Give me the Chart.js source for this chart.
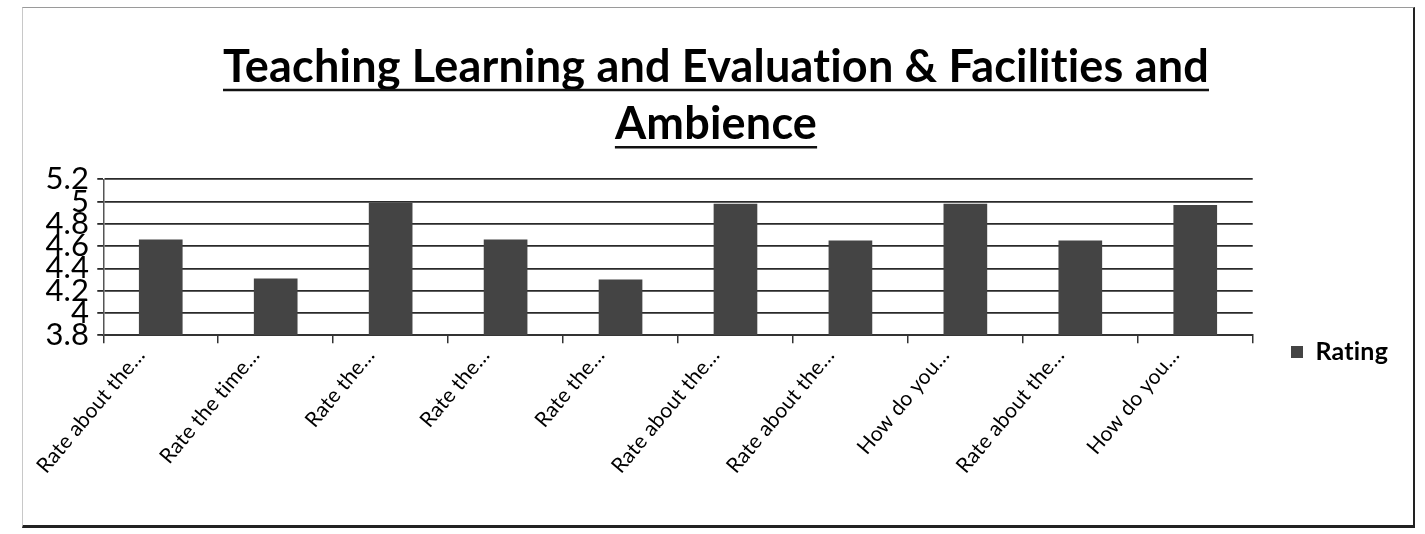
<!DOCTYPE html>
<html>
<head>
<meta charset="utf-8">
<script src="https://cdn.jsdelivr.net/npm/chart.js@4.4.1/dist/chart.umd.min.js"></script>
<style>
  html, body { margin: 0; padding: 0; background: #fff; }
  #wrap { position: relative; width: 1425px; height: 534px; }
  #frame {
    position: absolute; left: 22px; top: 7px; width: 1390px; height: 517px;
    border-left: 1px solid #c8c8c8; border-top: 1px solid #9a9a9a;
    border-right: 2px solid #222; border-bottom: 3px solid #222;
  }
  canvas { position: absolute; left: 0; top: 0; }
</style>
</head>
<body>
<div id="wrap">
  <div id="frame"></div>
  <canvas id="chart" width="1425" height="534"></canvas>
</div>
<script>
// data
const questions = [
  'Rate about the…', 'Rate the time…', 'Rate the…', 'Rate the…', 'Rate the…',
  'Rate about the…', 'Rate about the…', 'How do you…', 'Rate about the…', 'How do you…'
]
const rating = [4.66, 4.31, 4.99, 4.66, 4.30, 4.98, 4.65, 4.98, 4.65, 4.97]
const yTicks = [3.8, 4, 4.2, 4.4, 4.6, 4.8, 5, 5.2]
const titleLines = ['Teaching Learning and Evaluation & Facilities and', 'Ambience']
const seriesName = 'Rating'

const FONT = 'Lato, "Open Sans", sans-serif'

// no "ti" ligatures, Calibri has none
const noLigatures = {
  id: 'noLigatures',
  beforeDraw(chart) { chart.ctx.letterSpacing = '0.2px' }
}

// underline each title line like the original
const underlineTitle = {
  id: 'underlineTitle',
  afterDraw(chart) {
    const t = chart.titleBlock
    if (!t) return
    const o = t.options
    const size = o.font.size
    const lh = size * o.font.lineHeight
    const ctx = chart.ctx
    ctx.save()
    ctx.font = 'bold ' + size + 'px ' + FONT
    ctx.strokeStyle = '#111'
    ctx.lineWidth = 2.5
    const cx = (t.left + t.right) / 2
    titleLines.forEach((line, i) => {
      const w = ctx.measureText(line).width
      const y = t.top + o.padding.top + lh / 2 + i * lh + size * 0.5
      ctx.beginPath()
      ctx.moveTo(cx - w / 2, y)
      ctx.lineTo(cx + w / 2, y)
      ctx.stroke()
    })
    ctx.restore()
  }
}

// move the legend and title to where the original puts them
const placeBoxes = {
  id: 'placeBoxes',
  afterLayout(chart) {
    const lg = chart.legend
    const dx = 1281 - lg.left
    lg.left += dx
    lg.right += dx
    const h = lg.bottom - lg.top
    lg.top = 352 - h / 2
    lg.bottom = 352 + h / 2
    const t = chart.titleBlock
    const tx = 716 - (t.left + t.right) / 2
    t.left += tx
    t.right += tx
  }
}

new Chart(document.getElementById('chart'), {
  type: 'bar',
  data: {
    labels: questions,
    datasets: [{
      label: seriesName,
      data: rating,
      backgroundColor: '#444',
      borderWidth: 0,
      barPercentage: 0.76,
      categoryPercentage: 0.5
    }]
  },
  options: {
    responsive: false,
    animation: false,
    layout: { padding: { left: 38, right: 56, top: 8, bottom: 58 } },
    plugins: {
      title: {
        display: true,
        text: titleLines,
        color: '#000',
        font: { family: FONT, size: 45, weight: 'bold', lineHeight: 1.27 },
        padding: { top: 31, bottom: 26 }
      },
      legend: {
        position: 'right',
        labels: {
          color: '#000',
          font: { family: FONT, size: 25, weight: 'bold' },
          boxWidth: 12, boxHeight: 12
        }
      },
      tooltip: { enabled: false }
    },
    scales: {
      x: {
        grid: { display: true, drawOnChartArea: false, drawTicks: true, tickLength: 8, color: '#333', lineWidth: 1.5 },
        border: { display: true, color: '#333', width: 2 },
        ticks: {
          color: '#000',
          font: { family: FONT, size: 21 },
          autoSkip: false, minRotation: 50, maxRotation: 50, padding: 0,
          labelOffset: -20
        }
      },
      y: {
        min: 3.8, max: 5.2,
        afterBuildTicks: axis => { axis.ticks = yTicks.map(v => ({ value: v })) },
        grid: { color: '#2a2a2a', lineWidth: 1.8, tickLength: 6 },
        border: { display: true, color: '#555', width: 1.5 },
        ticks: {
          autoSkip: false,
          color: '#000',
          font: { family: FONT, size: 31, lineHeight: 0.7 },
          padding: 8,
          callback: v => String(Math.round(v * 10) / 10)
        }
      }
    }
  },
  plugins: [noLigatures, underlineTitle, placeBoxes]
})
</script>
</body>
</html>
